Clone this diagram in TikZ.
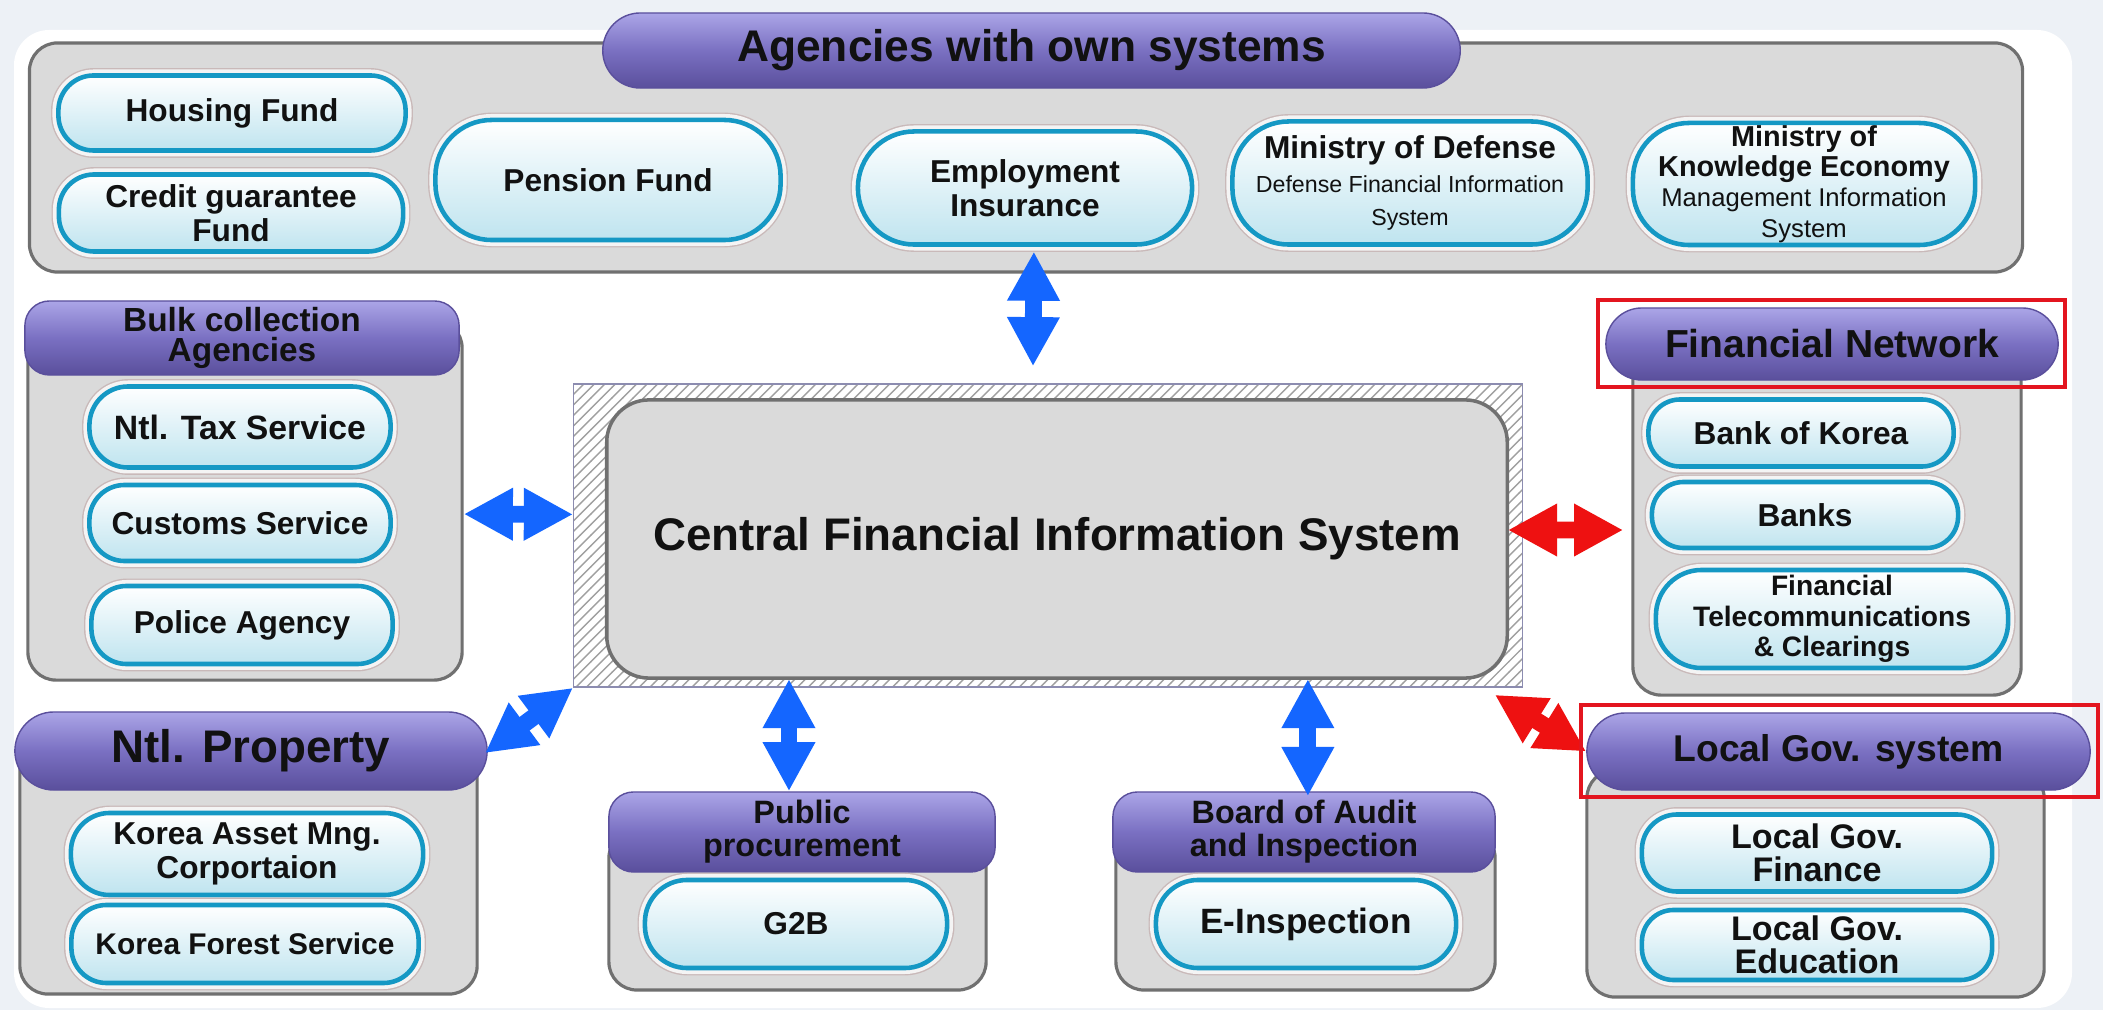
\documentclass[tikz,border=0pt]{standalone}
\usepackage{fontspec}
\setmainfont{Liberation Sans}
\usetikzlibrary{shapes.misc,arrows.meta,patterns}

\definecolor{backdrop}{HTML}{EDF1F6}
\definecolor{txt}{HTML}{111111}
\definecolor{grpfill}{HTML}{DADADA}
\definecolor{grpedge}{HTML}{707070}
\definecolor{hdtop}{HTML}{ABA5E7}
\definecolor{hdmid}{HTML}{7A70C2}
\definecolor{hdbot}{HTML}{5A4F9C}
\definecolor{pillblue}{HTML}{1598C4}
\definecolor{pillfill}{HTML}{BFE4EF}
\definecolor{ringfill}{HTML}{F4F4F4}
\definecolor{ringedge}{HTML}{C9B9B9}
\definecolor{hatchgray}{HTML}{A0A0A0}
\definecolor{hatchedge}{HTML}{8C8CB0}
\definecolor{arrowblue}{HTML}{1466FF}
\definecolor{arrowred}{HTML}{EE1111}
\definecolor{markred}{HTML}{E3151F}

\newcommand\boldsz[2]{\bfseries\fontsize{#1}{#2}\selectfont}
\newcommand\pillfont{\bfseries\fontsize{9}{9.6}\selectfont}
\newcommand\subfont{\mdseries\fontsize{6.6}{7.4}\selectfont}
\newcommand\subfontb{\mdseries\fontsize{7.3}{7.8}\selectfont}

\tikzset{
  grp/.style={draw=grpedge, line width=0.9pt, fill=grpfill, rounded corners=8pt, inner sep=0pt},
  headpill/.style={rounded rectangle, inner sep=0pt, draw=hdbot, line width=0.4pt,
    top color=hdtop, bottom color=hdbot, middle color=hdmid, text=txt, align=center},
  headbox/.style={headpill, shape=rectangle, rounded corners=7pt},
  pill/.style={rectangle, rounded corners=9pt, inner sep=0pt, draw=pillblue, line width=1.3pt,
    top color=white, bottom color=pillfill,
    preaction={draw=ringedge, line width=4.2pt},
    preaction={draw=ringfill, line width=3.4pt},
    font=\pillfont, text=txt, align=center},
  tallpill/.style={pill, rounded corners=16pt},
  redframe/.style={draw=markred, line width=1.3pt, inner sep=0pt},
  fatarrow/.style={line width=4.8pt,
    {Triangle[length=14pt,width=14pt]}-{Triangle[length=14pt,width=14pt]}},
  bluearrow/.style={fatarrow, draw=arrowblue},
  redarrow/.style={fatarrow, draw=arrowred}
}

\begin{document}
\begin{tikzpicture}[x=0.01cm, y=-0.01cm]
\useasboundingbox (0,0) rectangle (2103,1010);
% backdrop
\fill[backdrop] (0,0) rectangle (2103,1010);
\fill[white, rounded corners=10pt] (14,30) rectangle (2072,1008);

% agencies with own systems
\node[grp, minimum width=19.92cm, minimum height=2.29cm] (topgrp) at (1026,157.5) {};
\node[headpill, minimum width=8.57cm, minimum height=0.75cm, font=\boldsz{12.6}{13}] (toptitle) at (1031.5,50.5) {Agencies with own systems};
\node[pill, minimum width=3.47cm, minimum height=0.75cm, rounded corners=10pt] (hfund) at (232,113) {Housing Fund};
\node[pill, minimum width=3.44cm, minimum height=0.77cm, rounded corners=10pt] (cgfund) at (231,213) {Credit guarantee\\Fund};
\node[tallpill, minimum width=3.45cm, minimum height=1.20cm] (pension) at (608,180) {Pension Fund};
\node[tallpill, minimum width=3.34cm, minimum height=1.13cm] (empins) at (1025,188) {Employment\\Insurance};
\node[tallpill, minimum width=3.55cm, minimum height=1.23cm] (mod) at (1410,183) {Ministry of Defense\\\subfont Defense Financial Information\\\subfont System};
\node[tallpill, minimum width=3.42cm, minimum height=1.22cm, font=\boldsz{8.2}{8.6}] (mke) at (1804,184) {Ministry of\\Knowledge Economy\\\subfontb Management Information\\\subfontb System};

% bulk collection
\node[grp, minimum width=4.34cm, minimum height=3.60cm] (bulk) at (245,500) {};
\node[headbox, minimum width=4.34cm, minimum height=0.74cm, font=\boldsz{9.5}{8.6}] (bulkhead) at (242,338) {Bulk collection\\Agencies};
\node[pill, minimum width=3.01cm, minimum height=0.81cm, rounded corners=11pt, font=\boldsz{9.6}{10}] (taxsvc) at (240,427) {Ntl. Tax Service};
\node[pill, minimum width=3.01cm, minimum height=0.76cm, rounded corners=10pt] (customs) at (240,523) {Customs Service};
\node[pill, minimum width=3.01cm, minimum height=0.78cm, rounded corners=10pt] (police) at (242,625) {Police Agency};

% ntl. property
\node[grp, minimum width=4.57cm, minimum height=2.54cm] (prop) at (248.5,867) {};
\node[headpill, minimum width=4.72cm, minimum height=0.78cm, font=\boldsz{13}{14}] (prophead) at (251,751) {Ntl. Property};
\node[pill, minimum width=3.52cm, minimum height=0.82cm, rounded corners=11pt] (kamco) at (247,854) {Korea Asset Mng.\\Corportaion};
\node[pill, minimum width=3.47cm, minimum height=0.78cm, rounded corners=10pt, font=\boldsz{8.5}{9}] (kfs) at (245,944) {Korea Forest Service};

% public procurement
\node[grp, minimum width=3.77cm, minimum height=1.60cm] (ppc) at (797.5,910) {};
\node[headbox, minimum width=3.86cm, minimum height=0.80cm, font=\boldsz{9.2}{9.4}] (ppchead) at (802,832) {Public\\procurement};
\node[pill, minimum width=3.02cm, minimum height=0.88cm, rounded corners=12pt] (g2b) at (796,924) {G2B};

% board of audit
\node[grp, minimum width=3.79cm, minimum height=1.60cm] (bai) at (1305.5,910) {};
\node[headbox, minimum width=3.82cm, minimum height=0.80cm, font=\boldsz{9.2}{9.4}] (baihead) at (1304,832) {Board of Audit\\and Inspection};
\node[pill, minimum width=3.00cm, minimum height=0.88cm, rounded corners=12pt, font=\boldsz{10}{11}] (einsp) at (1306,924) {E-Inspection};

% financial network
\node[grp, minimum width=3.88cm, minimum height=3.55cm] (fin) at (1827,517.5) {};
\node[headpill, minimum width=4.52cm, minimum height=0.72cm, font=\boldsz{11.1}{12}] (finhead) at (1832,344) {Financial Network};
\node[pill, minimum width=3.05cm, minimum height=0.67cm] (bok) at (1801,433) {Bank of Korea};
\node[pill, minimum width=3.06cm, minimum height=0.66cm] (banks) at (1805,515) {Banks};
\node[pill, rounded corners=13pt, minimum width=3.52cm, minimum height=0.98cm, font=\boldsz{8}{8.6}] (ftc) at (1832,619) {Financial\\Telecommunications\\\& Clearings};

% local gov.
\node[grp, minimum width=4.57cm, minimum height=2.27cm] (local) at (1815.5,883.5) {};
\node[headpill, minimum width=5.03cm, minimum height=0.77cm, font=\boldsz{10.6}{12}] (localhead) at (1838.5,751.5) {Local Gov. system};
\node[pill, minimum width=3.50cm, minimum height=0.77cm, rounded corners=10pt, font=\boldsz{9.7}{9.4}] (lgfin) at (1817,853) {Local Gov.\\Finance};
\node[pill, minimum width=3.50cm, minimum height=0.70cm, font=\boldsz{9.7}{9.4}] (lgedu) at (1817,945) {Local Gov.\\Education};

% central system
\node[draw=hatchedge, pattern=north east lines, pattern color=hatchgray, minimum width=9.48cm, minimum height=3.03cm, inner sep=0pt] (hatch) at (1048,535.5) {};
\node[draw=grpedge, line width=1pt, fill=grpfill, rounded corners=12pt, minimum width=9.00cm, minimum height=2.78cm, font=\boldsz{13}{14}, text=txt] (cfis) at (1057,539) {Central Financial Information System};

% links
\draw[bluearrow, shorten <=-6.3pt, shorten >=4.8pt] ([xshift=2.2pt]topgrp.south) -- ([xshift=-4.3pt]hatch.north);
\draw[bluearrow] ([yshift=-4pt]bulk.east) -- ([yshift=6pt]hatch.west);
\draw[bluearrow, shorten <=-1pt] (prophead.east) -- (hatch.south west);
\draw[bluearrow, shorten <=-2.5pt] ([xshift=-3.7pt]ppchead.north |- hatch.south) -- ([xshift=-3.7pt]ppchead.north);
\draw[bluearrow, shorten <=-2.5pt, shorten >=-1.4pt] ([xshift=1.1pt]baihead.north |- hatch.south) -- ([xshift=1.1pt]baihead.north);
\draw[redarrow, shorten <=-4.3pt, shorten >=2.3pt] ([yshift=1.56pt]hatch.east) -- ([yshift=-3.56pt]fin.west);
\draw[redarrow] ([xshift=-8pt,yshift=-2pt]hatch.south east) -- (localhead.west);

% highlights
\node[redframe, minimum width=4.67cm, minimum height=0.87cm] (finframe) at (1831.5,343.5) {};
\node[redframe, minimum width=5.17cm, minimum height=0.92cm] (localframe) at (1839.5,751) {};
\end{tikzpicture}
\end{document}
